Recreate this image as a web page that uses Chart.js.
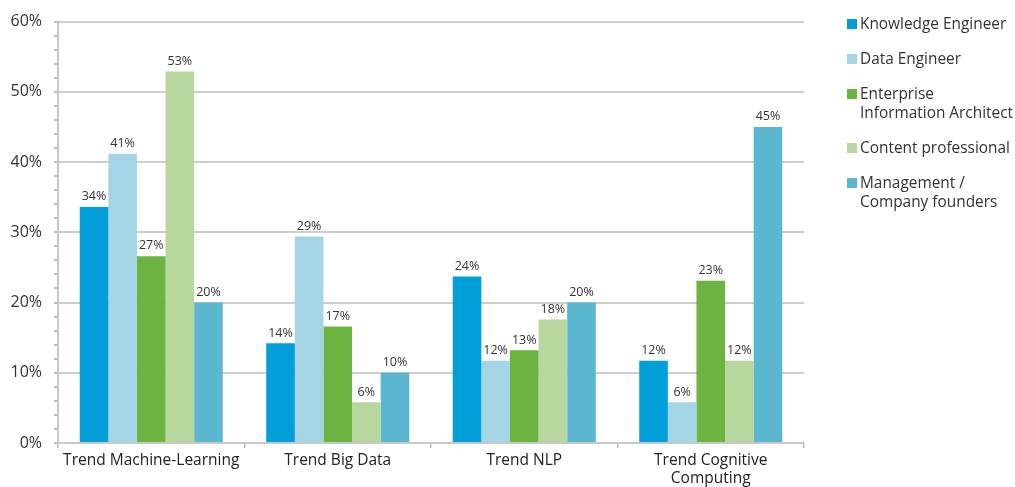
<!DOCTYPE html>
<html>
<head>
<meta charset="utf-8">
<script src="https://cdn.jsdelivr.net/npm/chart.js@4/dist/chart.umd.min.js"></script>
<style>
  html, body { margin: 0; padding: 0; background: #fff; }
  #wrap { position: relative; width: 1015px; height: 487px; overflow: hidden; }
  #legend { position: absolute; left: 847px; top: 14px; font-family: "Open Sans", sans-serif; font-size: 15.4px; color: #333; }
  .item { display: flex; align-items: flex-start; margin-bottom: 16px; line-height: 19px; }
  .box { width: 10px; height: 10px; margin-top: 5px; margin-right: 3px; flex: none; }
</style>
</head>
<body>
<div id="wrap">
  <canvas id="chart" width="1015" height="487"></canvas>
  <div id="legend"></div>
</div>
<script>
  'use strict';

  var categories = ['Trend Machine-Learning', 'Trend Big Data', 'Trend NLP', ['Trend Cognitive', 'Computing']];
  var seriesNames = ['Knowledge Engineer', 'Data Engineer', ['Enterprise', 'Information Architect'], 'Content professional', ['Management /', 'Company founders']];
  var seriesColors = ['#009fda', '#a4d5e4', '#6cb33f', '#b8d79f', '#5bb7d0'];

  var knowledgeEngineer = [33.6, 14.2, 23.7, 11.7];
  var dataEngineer = [41.2, 29.4, 11.7, 5.8];
  var enterpriseArchitect = [26.6, 16.6, 13.2, 23.1];
  var contentProfessional = [52.9, 5.8, 17.6, 11.7];
  var managementFounders = [20.0, 10.0, 20.0, 45.0];

  var yTicks = [0, 10, 20, 30, 40, 50, 60];

  var seriesValues = [knowledgeEngineer, dataEngineer, enterpriseArchitect, contentProfessional, managementFounders];
  var font = '"Open Sans", sans-serif';

  var datasets = seriesValues.map(function (vals, i) {
    return {
      label: Array.isArray(seriesNames[i]) ? seriesNames[i].join(' ') : seriesNames[i],
      data: vals,
      backgroundColor: seriesColors[i],
      borderWidth: 0,
      barPercentage: 1.0,
      categoryPercentage: 0.767
    };
  });

  // value labels above the bars
  var valueLabels = {
    id: 'valueLabels',
    afterDatasetsDraw: function (chart) {
      var ctx = chart.ctx;
      ctx.save();
      ctx.font = '12.5px ' + font;
      ctx.fillStyle = '#333';
      ctx.textAlign = 'center';
      ctx.textBaseline = 'bottom';
      chart.data.datasets.forEach(function (ds, i) {
        chart.getDatasetMeta(i).data.forEach(function (bar, j) {
          ctx.fillText(Math.round(ds.data[j]) + '%', bar.x, bar.y - 4);
        });
      });
      ctx.restore();
    }
  };

  new Chart(document.getElementById('chart').getContext('2d'), {
    type: 'bar',
    data: { labels: categories, datasets: datasets },
    plugins: [valueLabels],
    options: {
      responsive: false,
      animation: false,
      layout: { padding: { top: 19, right: 211, left: 0, bottom: 0 } },
      plugins: { legend: { display: false }, tooltip: { enabled: false } },
      scales: {
        x: {
          grid: { drawOnChartArea: false, drawTicks: true, tickLength: 5, tickColor: '#bbb', lineWidth: 1.5, offset: true },
          border: { color: '#c8c8c8', width: 2 },
          ticks: { font: { family: font, size: 15.5 }, color: '#222', padding: 3, maxRotation: 0, autoSkip: false },
          afterFit: function (scale) { scale.height = 44; }
        },
        y: {
          min: yTicks[0],
          max: yTicks[yTicks.length - 1],
          grid: {
            color: function (c) { return c.tick && c.tick.value % 10 === 0 ? '#cdcdcd' : 'rgba(0,0,0,0)'; },
            lineWidth: 2,
            tickLength: 4,
            tickColor: '#bbb'
          },
          border: { color: '#c8c8c8', width: 2 },
          ticks: {
            stepSize: 2,
            autoSkip: false,
            font: { family: font, size: 16 },
            color: '#333',
            padding: 12,
            callback: function (v) { return yTicks.indexOf(v) >= 0 ? v + '%' : ''; }
          },
          afterFit: function (scale) { scale.width = 58; }
        }
      }
    }
  });

  var legend = document.getElementById('legend');
  seriesNames.forEach(function (name, i) {
    var item = document.createElement('div');
    item.className = 'item';
    var box = document.createElement('span');
    box.className = 'box';
    box.style.background = seriesColors[i];
    var text = document.createElement('span');
    text.innerHTML = Array.isArray(name) ? name.join('<br>') : name;
    item.appendChild(box);
    item.appendChild(text);
    legend.appendChild(item);
  });
</script>
</body>
</html>
